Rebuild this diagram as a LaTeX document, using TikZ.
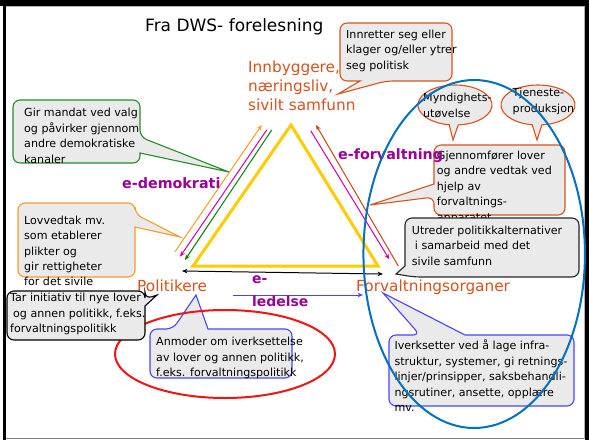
\documentclass[tikz,border=0pt]{standalone}
\usepackage{fontspec}
\setmainfont{DejaVu Sans}
\usetikzlibrary{arrows.meta,shapes.geometric}
\definecolor{cred}{RGB}{214,84,30}
\definecolor{corange}{RGB}{245,158,40}
\definecolor{cgreen}{RGB}{40,140,40}
\definecolor{cgreenarrow}{RGB}{0,128,0}
\definecolor{cmagenta}{RGB}{210,0,170}
\definecolor{carrowred}{RGB}{200,70,20}
\definecolor{cblue}{RGB}{70,70,255}
\definecolor{cellblue}{RGB}{0,112,192}
\definecolor{cpurple}{RGB}{153,0,153}
\definecolor{cyellow}{RGB}{255,204,0}
\definecolor{cfill}{RGB}{234,234,234}
\definecolor{credell}{RGB}{240,20,20}
\newcommand{\firststrut}{\rule{0pt}{9.4pt}}
\begin{document}
\begin{tikzpicture}[x=1pt,y=1pt,
  callout/.style={fill=cfill,line width=1.1pt,rounded corners=7pt},
  ecallout/.style={fill=cfill,line width=1.1pt},
  ctext/.style={font=\fontsize{11.1}{15.4}\selectfont,align=left,inner sep=0pt,anchor=north west,text=black},
  bigtext/.style={font=\fontsize{15.3}{19}\selectfont,inner sep=0pt,anchor=base west,text=cred},
  ebold/.style={font=\bfseries\fontsize{14.3}{17}\selectfont,inner sep=0pt,anchor=base west,text=cpurple},
  ereg/.style={font=\bfseries\fontsize{13.9}{17}\selectfont,inner sep=0pt,anchor=base west,text=cpurple},
  thinarrow/.style={line width=1pt,-{Stealth[length=5.5pt,width=4.5pt]}},
]
\useasboundingbox (0,0) rectangle (589,-440);
\fill[white] (0,0) rectangle (589,-440);
% frame
\fill[black] (0,0) rectangle (589,-5.7);
\fill[black] (2.7,0) rectangle (6,-440);
\fill[black] (585,0) rectangle (589,-440);
\draw[gray,line width=1pt] (6,-438.7) -- (585,-438.7);
\draw[gray!60,line width=0.6pt] (6,-6.2) -- (584.5,-6.2) -- (584.5,-438.7);

% triangle
\coordinate (tA) at (291,-125);
\coordinate (tB) at (378,-266);
\coordinate (tC) at (193,-266);
\draw[cyellow,line width=3pt,line join=miter] (tA) -- (tB) -- (tC) -- cycle;

% arrows along left side
\coordinate (lo1) at (175,-251.7); \coordinate (lo2) at (261.7,-125);
\coordinate (lm1) at (266.7,-130); \coordinate (lm2) at (180,-256.7);
\coordinate (lg1) at (271.7,-130); \coordinate (lg2) at (185,-260);
\draw[thinarrow,corange] (lo1) -- (lo2);
\draw[thinarrow,cmagenta] (lm1) -- (lm2);
\draw[thinarrow,cgreenarrow] (lg1) -- (lg2);
% arrows along right side
\coordinate (rm1) at (310.7,-130.7); \coordinate (rm2) at (389.3,-259.3);
\coordinate (rr1) at (398.3,-266); \coordinate (rr2) at (316,-125);
\draw[thinarrow,cmagenta] (rm1) -- (rm2);
\draw[thinarrow,carrowred] (rr1) -- (rr2);
% bottom arrows
\coordinate (bl) at (182,-271); \coordinate (br) at (383,-274);
\draw[line width=1pt,{Stealth[length=5.5pt,width=4.5pt]}-{Stealth[length=5.5pt,width=4.5pt]}] (bl) -- (br);
\coordinate (b1) at (233,-295); \coordinate (b2) at (363,-295);
\draw[thinarrow,cblue] (b1) -- (b2);

% title and main labels
\node[font=\fontsize{17}{20}\selectfont,inner sep=0pt,anchor=base west] (title) at (145,-31.7) {Fra DWS- forelesning};
\node[bigtext,anchor=north west,align=left] (innb) at (248,-60.5) {\rule{0pt}{12pt}Innbyggere,\\næringsliv,\\sivilt samfunn};
\node[bigtext] (pol) at (137,-291.7) {Politikere};
\node[bigtext] (forv) at (356,-291.7) {Forvaltningsorganer};

% callout: Innretter
\draw[callout,draw=cred] (340,-23) -- (452,-23) -- (452,-81) -- (386,-81) [sharp corners] -- (338,-94) -- (360,-81) -- (358,-81) [rounded corners=7pt] -- (340,-81) -- cycle;
\node[ctext] (innr) at (346,-28.6) {\firststrut Innretter seg eller\\klager og/eller ytrer\\seg politisk};

% callout: Gir mandat
\draw[callout,draw=cgreen] (13,-100) -- (140,-100) -- (140,-137) [sharp corners] -- (229,-172) -- (140,-153) -- (140,-155) [rounded corners=7pt] -- (140,-163) -- (13,-163) -- cycle;
\node[ctext] (gir) at (24,-107.3) {\firststrut Gir mandat ved valg\\og påvirker gjennom\\andre demokratiske\\kanaler};

% callout: Lovvedtak
\draw[callout,draw=corange] (18,-203) -- (135,-203) -- (135,-214) [sharp corners] -- (180,-237) -- (135,-227) -- (135,-229) [rounded corners=7pt] -- (135,-277) -- (18,-277) -- cycle;
\node[ctext] (lov) at (24,-214.6) {\firststrut Lovvedtak mv.\\som etablerer\\plikter og\\gir rettigheter\\for det sivile};

\node[ebold] (edem) at (122,-188) {e-demokrati};

% callout: Anmoder
\draw[callout,draw=cblue] (150,-378) -- (150,-329) -- (173,-329) [sharp corners] -- (196,-295) -- (208,-329) -- (210,-329) [rounded corners=7pt] -- (292,-329) -- (292,-378) -- cycle;
\node[ctext] (anm) at (156,-336.3) {\firststrut Anmoder om iverksettelse\\av lover og annen politikk,\\f.eks. forvaltningspolitikk};

% red ellipse
\node[draw=credell,line width=2pt,ellipse,minimum width=220pt,minimum height=88pt,inner sep=0pt] (redell) at (225,-354) {};

% callout: Tar initiativ
\draw[callout,draw=black] (7,-291) -- (145,-291) -- (145,-299) [sharp corners] -- (157,-295) -- (145,-306) -- (145,-308) [rounded corners=7pt] -- (145,-340) -- (7,-340) -- cycle;
\node[ctext] (tar) at (10,-292.3) {\firststrut Tar initiativ til nye lover\\\hspace*{3pt}og annen politikk, f.eks.\\forvaltningspolitikk};

% callout: Gjennomfører
\draw[callout,draw=cred] (434,-145) -- (565,-145) -- (565,-215) -- (434,-215) -- (434,-197) [sharp corners] -- (370,-205) -- (434,-184) -- (434,-182) [rounded corners=7pt] -- cycle;
\node[ctext] (gjen) at (436.7,-149.9) {\firststrut Gjennomfører lover\\og andre vedtak ved\\hjelp av\\forvaltnings-\\apparatet};
\node[ebold] (eforv) at (338,-159.3) {e-forvaltning};

% callout: Utreder
\draw[callout,draw=black!85] (405,-218) -- (579,-218) -- (579,-277) -- (414,-277) [sharp corners] -- (396,-274) -- (405,-266) -- (405,-264) [rounded corners=7pt] -- cycle;
\node[ctext] (utr) at (411.7,-224.6) {\firststrut Utreder politikkalternativer\\\hspace*{3pt}i samarbeid med det\\sivile samfunn};

% callout: Iverksetter
\draw[callout,draw=cblue] (389,-406) -- (389,-335) -- (420,-335) [sharp corners] -- (383,-293) -- (465,-335) -- (467,-335) [rounded corners=7pt] -- (574,-335) -- (574,-406) -- cycle;
\node[ctext] (iverk) at (394.3,-339.9) {\firststrut Iverksetter ved å lage infra-\\struktur, systemer, gi retnings-\\linjer/prinsipper, saksbehandli-\\ngsrutiner, ansette, opplære\\mv.};

% oval callouts
\draw[ecallout,draw=cred] (455,-105) ++(275:37 and 20) arc[start angle=275,end angle=621,x radius=37,y radius=20] -- (453,-140) -- cycle;
\node[ctext] (myn) at (423,-92.3) {\firststrut Myndighets-\\utøvelse};
\draw[ecallout,draw=cred] (538,-105) ++(276:37 and 20) arc[start angle=276,end angle=621,x radius=37,y radius=20] -- (537,-140) -- cycle;
\node[ctext] (tjen) at (512.5,-87.3) {\firststrut Tjeneste-\\produksjon};

% e-ledelse
\node[ereg] (ele1) at (252,-283) {e-};
\node[ereg] (ele2) at (252,-306.7) {ledelse};

% blue ellipse
\node[draw=cellblue,line width=2pt,ellipse,minimum width=221.5pt,minimum height=348pt,inner sep=0pt] (blueell) at (474.2,-254) {};
\end{tikzpicture}
\end{document}
